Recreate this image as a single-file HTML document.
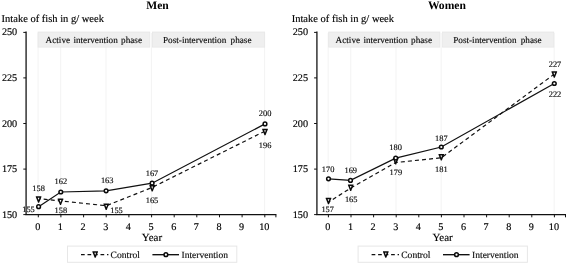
<!DOCTYPE html>
<html><head><meta charset="utf-8"><title>Fish intake</title>
<style>
html,body{margin:0;padding:0;background:#fff;}
body{width:567px;height:265px;overflow:hidden;}
svg{display:block;will-change:transform;text-rendering:geometricPrecision;font-family:"Liberation Serif",serif;}
</style></head><body>
<svg width="567" height="265" viewBox="0 0 567 265">
<rect width="567" height="265" fill="#fff"/>
<g>
<line x1="38.1" y1="33" x2="38.1" y2="214" stroke="#f3f3f3" stroke-width="1"/>
<line x1="60.7" y1="33" x2="60.7" y2="214" stroke="#f3f3f3" stroke-width="1"/>
<line x1="106.0" y1="33" x2="106.0" y2="214" stroke="#f3f3f3" stroke-width="1"/>
<line x1="151.4" y1="33" x2="151.4" y2="214" stroke="#f3f3f3" stroke-width="1"/>
<line x1="264.6" y1="33" x2="264.6" y2="214" stroke="#f3f3f3" stroke-width="1"/>
<rect x="38.0" y="32.0" width="111.8" height="15.1" fill="#efefef" stroke="#e5e5e5" stroke-width="0.7"/>
<rect x="152.4" y="32.0" width="112.3" height="15.1" fill="#efefef" stroke="#e5e5e5" stroke-width="0.7"/>
<text x="45.6" y="43.4" font-size="9.2" fill="#111" word-spacing="1.0" stroke="#000" stroke-width="0.15">Active intervention phase</text>
<text x="163.0" y="43.4" font-size="9.2" fill="#111" word-spacing="2.0" stroke="#000" stroke-width="0.15">Post-intervention phase</text>
<line x1="26.1" y1="31.6" x2="26.1" y2="215" stroke="#333" stroke-width="1.5"/>
<line x1="25.4" y1="214.65" x2="276.4" y2="214.65" stroke="#111" stroke-width="1.4"/>
<line x1="275.9" y1="214.6" x2="275.9" y2="217.3" stroke="#111" stroke-width="1"/>
<line x1="23.3" y1="214.6" x2="26.1" y2="214.6" stroke="#111" stroke-width="1"/>
<text x="17.2" y="217.6" text-anchor="end" font-size="10.2" fill="#000" stroke="#000" stroke-width="0.15">150</text>
<line x1="23.3" y1="169.1" x2="26.1" y2="169.1" stroke="#111" stroke-width="1"/>
<text x="17.2" y="172.1" text-anchor="end" font-size="10.2" fill="#000" stroke="#000" stroke-width="0.15">175</text>
<line x1="23.3" y1="123.5" x2="26.1" y2="123.5" stroke="#111" stroke-width="1"/>
<text x="17.2" y="126.5" text-anchor="end" font-size="10.2" fill="#000" stroke="#000" stroke-width="0.15">200</text>
<line x1="23.3" y1="77.9" x2="26.1" y2="77.9" stroke="#111" stroke-width="1"/>
<text x="17.2" y="80.9" text-anchor="end" font-size="10.2" fill="#000" stroke="#000" stroke-width="0.15">225</text>
<line x1="23.3" y1="32.4" x2="26.1" y2="32.4" stroke="#111" stroke-width="1"/>
<text x="17.2" y="35.4" text-anchor="end" font-size="10.2" fill="#000" stroke="#000" stroke-width="0.15">250</text>
<line x1="38.3" y1="214.6" x2="38.3" y2="217.3" stroke="#111" stroke-width="1"/>
<text x="37.8" y="230.3" text-anchor="middle" font-size="10.2" fill="#000" stroke="#000" stroke-width="0.15">0</text>
<line x1="60.9" y1="214.6" x2="60.9" y2="217.3" stroke="#111" stroke-width="1"/>
<text x="60.4" y="230.3" text-anchor="middle" font-size="10.2" fill="#000" stroke="#000" stroke-width="0.15">1</text>
<line x1="83.6" y1="214.6" x2="83.6" y2="217.3" stroke="#111" stroke-width="1"/>
<text x="83.1" y="230.3" text-anchor="middle" font-size="10.2" fill="#000" stroke="#000" stroke-width="0.15">2</text>
<line x1="106.2" y1="214.6" x2="106.2" y2="217.3" stroke="#111" stroke-width="1"/>
<text x="105.7" y="230.3" text-anchor="middle" font-size="10.2" fill="#000" stroke="#000" stroke-width="0.15">3</text>
<line x1="128.9" y1="214.6" x2="128.9" y2="217.3" stroke="#111" stroke-width="1"/>
<text x="128.4" y="230.3" text-anchor="middle" font-size="10.2" fill="#000" stroke="#000" stroke-width="0.15">4</text>
<line x1="151.6" y1="214.6" x2="151.6" y2="217.3" stroke="#111" stroke-width="1"/>
<text x="151.1" y="230.3" text-anchor="middle" font-size="10.2" fill="#000" stroke="#000" stroke-width="0.15">5</text>
<line x1="174.2" y1="214.6" x2="174.2" y2="217.3" stroke="#111" stroke-width="1"/>
<text x="173.7" y="230.3" text-anchor="middle" font-size="10.2" fill="#000" stroke="#000" stroke-width="0.15">6</text>
<line x1="196.8" y1="214.6" x2="196.8" y2="217.3" stroke="#111" stroke-width="1"/>
<text x="196.3" y="230.3" text-anchor="middle" font-size="10.2" fill="#000" stroke="#000" stroke-width="0.15">7</text>
<line x1="219.5" y1="214.6" x2="219.5" y2="217.3" stroke="#111" stroke-width="1"/>
<text x="219.0" y="230.3" text-anchor="middle" font-size="10.2" fill="#000" stroke="#000" stroke-width="0.15">8</text>
<line x1="242.1" y1="214.6" x2="242.1" y2="217.3" stroke="#111" stroke-width="1"/>
<text x="241.6" y="230.3" text-anchor="middle" font-size="10.2" fill="#000" stroke="#000" stroke-width="0.15">9</text>
<line x1="264.8" y1="214.6" x2="264.8" y2="217.3" stroke="#111" stroke-width="1"/>
<text x="264.3" y="230.3" text-anchor="middle" font-size="10.2" fill="#000" stroke="#000" stroke-width="0.15">10</text>
<text x="152.0" y="240.8" text-anchor="middle" font-size="11" fill="#000" stroke="#000" stroke-width="0.15">Year</text>
<text x="157.5" y="9.2" text-anchor="middle" font-size="11.6" font-weight="bold" fill="#000">Men</text>
<text x="1.6" y="21.6" font-size="10.5" fill="#000" stroke="#000" stroke-width="0.15">Intake of fish in g/ week</text>
<polyline points="38.6,198.6 60.5,200.9 106.2,205.7 152.2,187.4 265.0,131.1" fill="none" stroke="#111" stroke-width="1.2" stroke-dasharray="4 3.1" stroke-dashoffset="2"/>
<polyline points="38.6,206.7 60.8,192.0 106.1,190.8 152.1,183.2 265.0,123.9" fill="none" stroke="#111" stroke-width="1.25"/>
<polygon points="35.80,196.30 41.40,196.30 41.40,197.00 39.10,202.80 38.10,202.80 35.80,197.00" fill="#0a0a0a"/><polygon points="37.75,197.80 39.45,197.80 38.60,200.10" fill="#fff"/>
<polygon points="57.70,198.60 63.30,198.60 63.30,199.30 61.00,205.10 60.00,205.10 57.70,199.30" fill="#0a0a0a"/><polygon points="59.65,200.10 61.35,200.10 60.50,202.40" fill="#fff"/>
<polygon points="103.40,203.40 109.00,203.40 109.00,204.10 106.70,209.90 105.70,209.90 103.40,204.10" fill="#0a0a0a"/><polygon points="105.35,204.90 107.05,204.90 106.20,207.20" fill="#fff"/>
<polygon points="149.40,185.10 155.00,185.10 155.00,185.80 152.70,191.60 151.70,191.60 149.40,185.80" fill="#0a0a0a"/><polygon points="151.35,186.60 153.05,186.60 152.20,188.90" fill="#fff"/>
<polygon points="262.20,128.80 267.80,128.80 267.80,129.50 265.50,135.30 264.50,135.30 262.20,129.50" fill="#0a0a0a"/><polygon points="264.15,130.30 265.85,130.30 265.00,132.60" fill="#fff"/>
<circle cx="38.60" cy="206.70" r="1.85" fill="#fff" stroke="#0a0a0a" stroke-width="1.5"/>
<circle cx="60.80" cy="192.00" r="1.85" fill="#fff" stroke="#0a0a0a" stroke-width="1.5"/>
<circle cx="106.10" cy="190.80" r="1.85" fill="#fff" stroke="#0a0a0a" stroke-width="1.5"/>
<circle cx="152.10" cy="183.20" r="1.85" fill="#fff" stroke="#0a0a0a" stroke-width="1.5"/>
<circle cx="265.00" cy="123.90" r="1.85" fill="#fff" stroke="#0a0a0a" stroke-width="1.5"/>
<text x="28.5" y="211.9" text-anchor="middle" font-size="8.4" fill="#111" stroke="#000" stroke-width="0.15">155</text>
<text x="38.6" y="191.0" text-anchor="middle" font-size="8.4" fill="#111" stroke="#000" stroke-width="0.15">158</text>
<text x="60.8" y="184.1" text-anchor="middle" font-size="8.4" fill="#111" stroke="#000" stroke-width="0.15">162</text>
<text x="60.8" y="212.6" text-anchor="middle" font-size="8.4" fill="#111" stroke="#000" stroke-width="0.15">158</text>
<text x="107.2" y="183.2" text-anchor="middle" font-size="8.4" fill="#111" stroke="#000" stroke-width="0.15">163</text>
<text x="116.5" y="213.2" text-anchor="middle" font-size="8.4" fill="#111" stroke="#000" stroke-width="0.15">155</text>
<text x="152" y="175.8" text-anchor="middle" font-size="8.4" fill="#111" stroke="#000" stroke-width="0.15">167</text>
<text x="152" y="202.6" text-anchor="middle" font-size="8.4" fill="#111" stroke="#000" stroke-width="0.15">165</text>
<text x="265.1" y="115.9" text-anchor="middle" font-size="8.4" fill="#111" stroke="#000" stroke-width="0.15">200</text>
<text x="265.1" y="147.6" text-anchor="middle" font-size="8.4" fill="#111" stroke="#000" stroke-width="0.15">196</text>
<rect x="67.5" y="246.1" width="169.3" height="16.2" fill="#fff" stroke="#e7e7e7" stroke-width="1"/>
<line x1="81.0" y1="254.7" x2="108.4" y2="254.7" stroke="#111" stroke-width="1.3" stroke-dasharray="3.7 2.8"/>
<polygon points="92.40,251.20 98.00,251.20 98.00,251.90 95.70,257.70 94.70,257.70 92.40,251.90" fill="#0a0a0a"/><polygon points="94.35,252.70 96.05,252.70 95.20,255.00" fill="#fff"/>
<text x="110.6" y="257.6" font-size="9.6" fill="#111" stroke="#000" stroke-width="0.15">Control</text>
<line x1="152.4" y1="254.7" x2="179.0" y2="254.7" stroke="#111" stroke-width="1.35"/>
<circle cx="165.90" cy="254.70" r="1.85" fill="#fff" stroke="#0a0a0a" stroke-width="1.5"/>
<text x="181.5" y="257.6" font-size="9.5" fill="#111" stroke="#000" stroke-width="0.15">Intervention</text>
</g>
<g>
<line x1="328.2" y1="33" x2="328.2" y2="214" stroke="#f3f3f3" stroke-width="1"/>
<line x1="350.8" y1="33" x2="350.8" y2="214" stroke="#f3f3f3" stroke-width="1"/>
<line x1="396.0" y1="33" x2="396.0" y2="214" stroke="#f3f3f3" stroke-width="1"/>
<line x1="441.2" y1="33" x2="441.2" y2="214" stroke="#f3f3f3" stroke-width="1"/>
<line x1="554.2" y1="33" x2="554.2" y2="214" stroke="#f3f3f3" stroke-width="1"/>
<rect x="328.7" y="32.0" width="111.2" height="15.1" fill="#efefef" stroke="#e5e5e5" stroke-width="0.7"/>
<rect x="442.5" y="32.0" width="111.3" height="15.1" fill="#efefef" stroke="#e5e5e5" stroke-width="0.7"/>
<text x="335.6" y="43.4" font-size="9.2" fill="#111" word-spacing="1.0" stroke="#000" stroke-width="0.15">Active intervention phase</text>
<text x="453.2" y="43.4" font-size="9.2" fill="#111" word-spacing="2.0" stroke="#000" stroke-width="0.15">Post-intervention phase</text>
<line x1="316.9" y1="31.6" x2="316.9" y2="215" stroke="#333" stroke-width="1.5"/>
<line x1="316.2" y1="214.65" x2="566.0" y2="214.65" stroke="#111" stroke-width="1.4"/>
<line x1="565.5" y1="214.6" x2="565.5" y2="217.3" stroke="#111" stroke-width="1"/>
<line x1="314.1" y1="214.6" x2="316.9" y2="214.6" stroke="#111" stroke-width="1"/>
<text x="308.0" y="217.6" text-anchor="end" font-size="10.2" fill="#000" stroke="#000" stroke-width="0.15">150</text>
<line x1="314.1" y1="169.1" x2="316.9" y2="169.1" stroke="#111" stroke-width="1"/>
<text x="308.0" y="172.1" text-anchor="end" font-size="10.2" fill="#000" stroke="#000" stroke-width="0.15">175</text>
<line x1="314.1" y1="123.5" x2="316.9" y2="123.5" stroke="#111" stroke-width="1"/>
<text x="308.0" y="126.5" text-anchor="end" font-size="10.2" fill="#000" stroke="#000" stroke-width="0.15">200</text>
<line x1="314.1" y1="77.9" x2="316.9" y2="77.9" stroke="#111" stroke-width="1"/>
<text x="308.0" y="80.9" text-anchor="end" font-size="10.2" fill="#000" stroke="#000" stroke-width="0.15">225</text>
<line x1="314.1" y1="32.4" x2="316.9" y2="32.4" stroke="#111" stroke-width="1"/>
<text x="308.0" y="35.4" text-anchor="end" font-size="10.2" fill="#000" stroke="#000" stroke-width="0.15">250</text>
<line x1="328.4" y1="214.6" x2="328.4" y2="217.3" stroke="#111" stroke-width="1"/>
<text x="327.9" y="230.3" text-anchor="middle" font-size="10.2" fill="#000" stroke="#000" stroke-width="0.15">0</text>
<line x1="351.0" y1="214.6" x2="351.0" y2="217.3" stroke="#111" stroke-width="1"/>
<text x="350.5" y="230.3" text-anchor="middle" font-size="10.2" fill="#000" stroke="#000" stroke-width="0.15">1</text>
<line x1="373.6" y1="214.6" x2="373.6" y2="217.3" stroke="#111" stroke-width="1"/>
<text x="373.1" y="230.3" text-anchor="middle" font-size="10.2" fill="#000" stroke="#000" stroke-width="0.15">2</text>
<line x1="396.2" y1="214.6" x2="396.2" y2="217.3" stroke="#111" stroke-width="1"/>
<text x="395.7" y="230.3" text-anchor="middle" font-size="10.2" fill="#000" stroke="#000" stroke-width="0.15">3</text>
<line x1="418.8" y1="214.6" x2="418.8" y2="217.3" stroke="#111" stroke-width="1"/>
<text x="418.3" y="230.3" text-anchor="middle" font-size="10.2" fill="#000" stroke="#000" stroke-width="0.15">4</text>
<line x1="441.4" y1="214.6" x2="441.4" y2="217.3" stroke="#111" stroke-width="1"/>
<text x="440.9" y="230.3" text-anchor="middle" font-size="10.2" fill="#000" stroke="#000" stroke-width="0.15">5</text>
<line x1="464.0" y1="214.6" x2="464.0" y2="217.3" stroke="#111" stroke-width="1"/>
<text x="463.5" y="230.3" text-anchor="middle" font-size="10.2" fill="#000" stroke="#000" stroke-width="0.15">6</text>
<line x1="486.6" y1="214.6" x2="486.6" y2="217.3" stroke="#111" stroke-width="1"/>
<text x="486.1" y="230.3" text-anchor="middle" font-size="10.2" fill="#000" stroke="#000" stroke-width="0.15">7</text>
<line x1="509.2" y1="214.6" x2="509.2" y2="217.3" stroke="#111" stroke-width="1"/>
<text x="508.7" y="230.3" text-anchor="middle" font-size="10.2" fill="#000" stroke="#000" stroke-width="0.15">8</text>
<line x1="531.8" y1="214.6" x2="531.8" y2="217.3" stroke="#111" stroke-width="1"/>
<text x="531.3" y="230.3" text-anchor="middle" font-size="10.2" fill="#000" stroke="#000" stroke-width="0.15">9</text>
<line x1="554.4" y1="214.6" x2="554.4" y2="217.3" stroke="#111" stroke-width="1"/>
<text x="553.9" y="230.3" text-anchor="middle" font-size="10.2" fill="#000" stroke="#000" stroke-width="0.15">10</text>
<text x="442.6" y="240.8" text-anchor="middle" font-size="11" fill="#000" stroke="#000" stroke-width="0.15">Year</text>
<text x="446.9" y="9.2" text-anchor="middle" font-size="11.6" font-weight="bold" fill="#000">Women</text>
<text x="291.7" y="21.6" font-size="10.5" fill="#000" stroke="#000" stroke-width="0.15">Intake of fish in g/ week</text>
<polyline points="328.5,202.2 350.7,188.0 395.7,162.5 441.3,157.8 554.3,74.1" fill="none" stroke="#111" stroke-width="1.2" stroke-dasharray="4 3.1" stroke-dashoffset="2"/>
<polyline points="328.5,178.8 350.5,180.4 395.7,158.1 441.3,147.0 554.3,83.5" fill="none" stroke="#111" stroke-width="1.25"/>
<polygon points="325.70,197.70 331.30,197.70 331.30,198.40 329.00,204.20 328.00,204.20 325.70,198.40" fill="#0a0a0a"/><polygon points="327.65,199.20 329.35,199.20 328.50,201.50" fill="#fff"/>
<polygon points="347.90,184.40 353.50,184.40 353.50,185.10 351.20,190.90 350.20,190.90 347.90,185.10" fill="#0a0a0a"/><polygon points="349.85,185.90 351.55,185.90 350.70,188.20" fill="#fff"/>
<polygon points="392.90,157.90 398.50,157.90 398.50,158.60 396.20,164.40 395.20,164.40 392.90,158.60" fill="#0a0a0a"/><polygon points="394.85,159.40 396.55,159.40 395.70,161.70" fill="#fff"/>
<polygon points="438.50,154.00 444.10,154.00 444.10,154.70 441.80,160.50 440.80,160.50 438.50,154.70" fill="#0a0a0a"/><polygon points="440.45,155.50 442.15,155.50 441.30,157.80" fill="#fff"/>
<polygon points="551.50,71.30 557.10,71.30 557.10,72.00 554.80,77.80 553.80,77.80 551.50,72.00" fill="#0a0a0a"/><polygon points="553.45,72.80 555.15,72.80 554.30,75.10" fill="#fff"/>
<circle cx="328.50" cy="178.80" r="1.85" fill="#fff" stroke="#0a0a0a" stroke-width="1.5"/>
<circle cx="350.50" cy="180.40" r="1.85" fill="#fff" stroke="#0a0a0a" stroke-width="1.5"/>
<circle cx="395.70" cy="158.10" r="1.85" fill="#fff" stroke="#0a0a0a" stroke-width="1.5"/>
<circle cx="441.30" cy="147.00" r="1.85" fill="#fff" stroke="#0a0a0a" stroke-width="1.5"/>
<circle cx="554.30" cy="83.50" r="1.85" fill="#fff" stroke="#0a0a0a" stroke-width="1.5"/>
<text x="328.1" y="171.8" text-anchor="middle" font-size="8.4" fill="#111" stroke="#000" stroke-width="0.15">170</text>
<text x="327.7" y="212.1" text-anchor="middle" font-size="8.4" fill="#111" stroke="#000" stroke-width="0.15">157</text>
<text x="350.75" y="172.9" text-anchor="middle" font-size="8.4" fill="#111" stroke="#000" stroke-width="0.15">169</text>
<text x="351.2" y="201.9" text-anchor="middle" font-size="8.4" fill="#111" stroke="#000" stroke-width="0.15">165</text>
<text x="395.6" y="149.75" text-anchor="middle" font-size="8.4" fill="#111" stroke="#000" stroke-width="0.15">180</text>
<text x="395.8" y="174.6" text-anchor="middle" font-size="8.4" fill="#111" stroke="#000" stroke-width="0.15">179</text>
<text x="441.3" y="141.3" text-anchor="middle" font-size="8.4" fill="#111" stroke="#000" stroke-width="0.15">187</text>
<text x="441.3" y="171.9" text-anchor="middle" font-size="8.4" fill="#111" stroke="#000" stroke-width="0.15">181</text>
<text x="555" y="67" text-anchor="middle" font-size="8.4" fill="#111" stroke="#000" stroke-width="0.15">227</text>
<text x="555" y="97.1" text-anchor="middle" font-size="8.4" fill="#111" stroke="#000" stroke-width="0.15">222</text>
<rect x="358.1" y="246.1" width="169.3" height="16.2" fill="#fff" stroke="#e7e7e7" stroke-width="1"/>
<line x1="371.6" y1="254.7" x2="399.0" y2="254.7" stroke="#111" stroke-width="1.3" stroke-dasharray="3.7 2.8"/>
<polygon points="383.00,251.20 388.60,251.20 388.60,251.90 386.30,257.70 385.30,257.70 383.00,251.90" fill="#0a0a0a"/><polygon points="384.95,252.70 386.65,252.70 385.80,255.00" fill="#fff"/>
<text x="401.2" y="257.6" font-size="9.6" fill="#111" stroke="#000" stroke-width="0.15">Control</text>
<line x1="443.0" y1="254.7" x2="469.6" y2="254.7" stroke="#111" stroke-width="1.35"/>
<circle cx="456.50" cy="254.70" r="1.85" fill="#fff" stroke="#0a0a0a" stroke-width="1.5"/>
<text x="472.1" y="257.6" font-size="9.5" fill="#111" stroke="#000" stroke-width="0.15">Intervention</text>
</g>
</svg>
</body></html>
